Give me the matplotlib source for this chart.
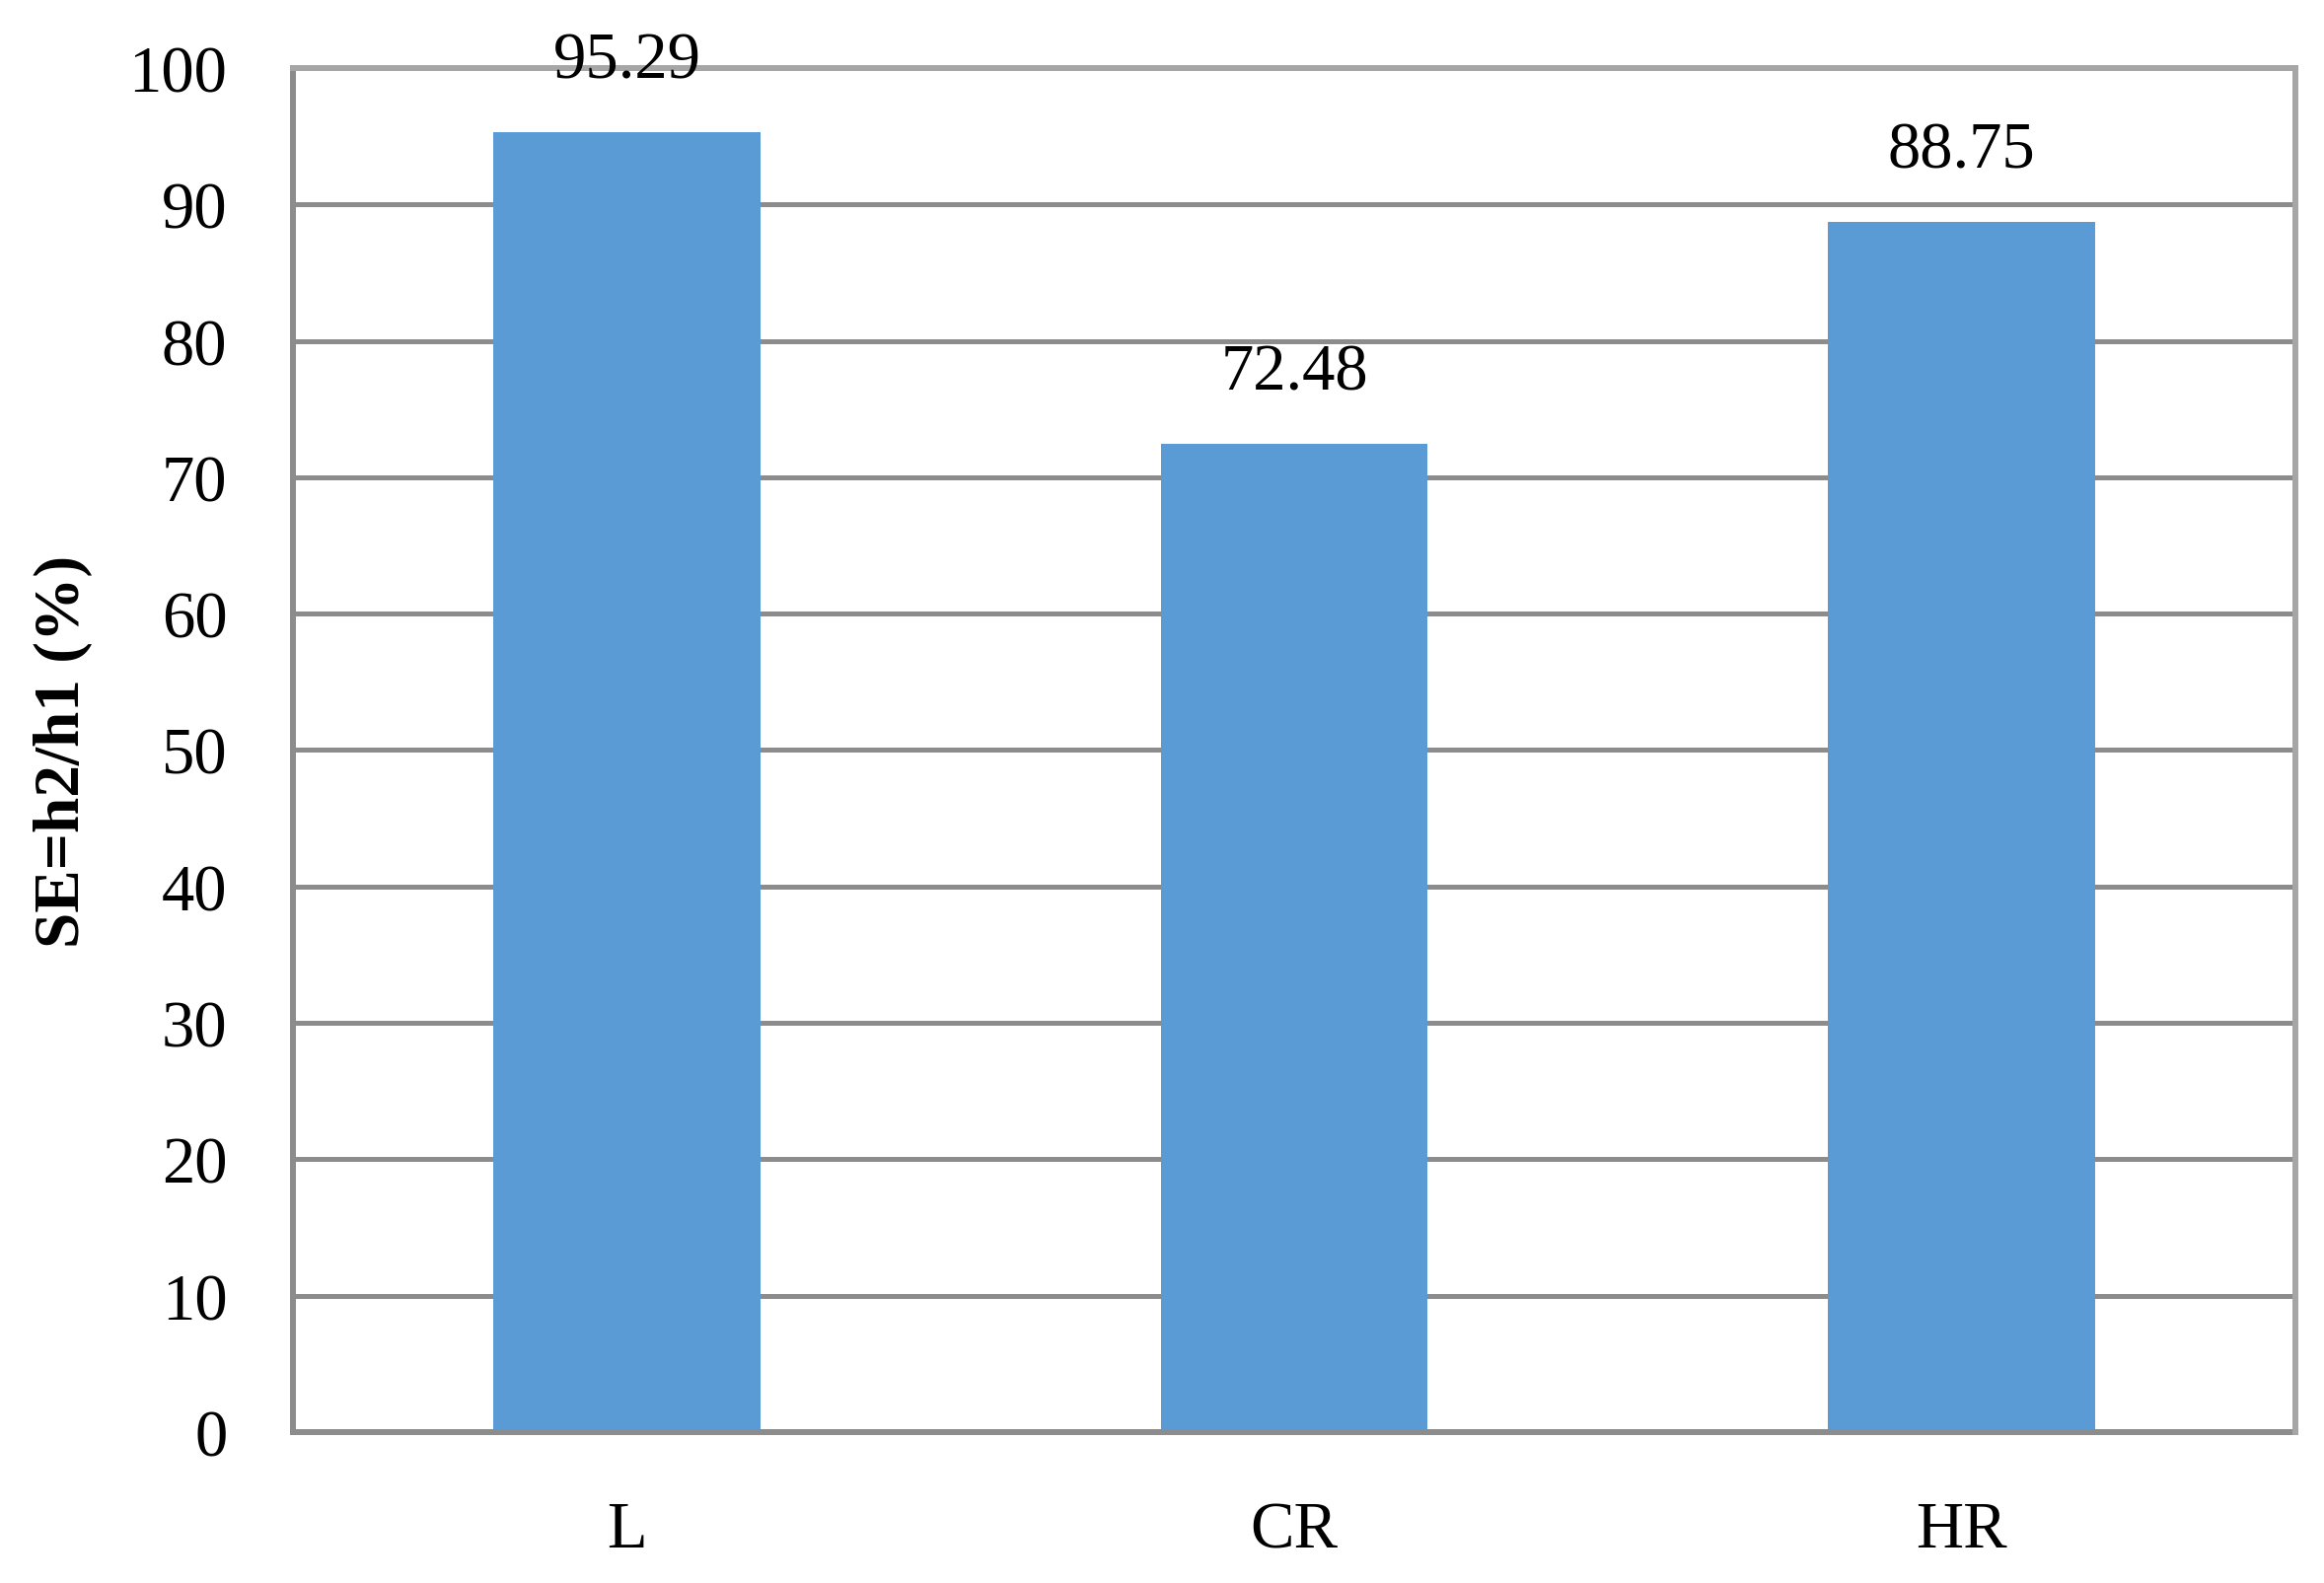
import matplotlib
matplotlib.use("Agg")
import matplotlib.pyplot as plt
import numpy as np

categories = ["L", "CR", "HR"]
se_values = [95.29, 72.48, 88.75]
y_ticks = [0, 10, 20, 30, 40, 50, 60, 70, 80, 90, 100]

plt.rcParams['font.family'] = ['Liberation Serif', 'DejaVu Serif']

fig = plt.figure(figsize=(23.56, 16.06), dpi=100)
ax = fig.add_axes([0.1261, 0.0953, 0.8616, 0.8611])

x = np.arange(len(categories))
bars = ax.bar(x, se_values, width=0.40, color="#5B9BD5", zorder=2)

ax.set_xlim(-0.5, len(categories) - 0.5)
ax.set_ylim(0, 100)
ax.set_yticks(y_ticks)
ax.set_xticks(x)
ax.set_xticklabels(categories)

# gridlines under the bars
ax.yaxis.grid(True, color="#8c8c8c", linewidth=3.6, zorder=0)
ax.set_axisbelow(True)

for side in ["left", "bottom"]:
    ax.spines[side].set_color("#8c8c8c")
    ax.spines[side].set_linewidth(4.3)
for side in ["top", "right"]:
    ax.spines[side].set_color("#a6a6a6")
    ax.spines[side].set_linewidth(4.3)
    ax.spines[side].set_zorder(3)

ax.tick_params(axis="both", length=0, labelsize=48)
ax.tick_params(axis="y", pad=48)
ax.tick_params(axis="x", pad=50)

for b, v in zip(bars, se_values):
    ax.annotate(f"{v:.2f}", (b.get_x() + b.get_width() / 2, v),
                xytext=(0, 40), textcoords="offset points",
                ha="center", va="baseline", fontsize=48,
                zorder=10, annotation_clip=False)

fig.text(64 / 2356, 0.5255, "SE=h2/h1 (%)", rotation=90, ha="center",
         va="center", fontsize=47, fontweight="bold")

fig.savefig("out.png", dpi=100)
